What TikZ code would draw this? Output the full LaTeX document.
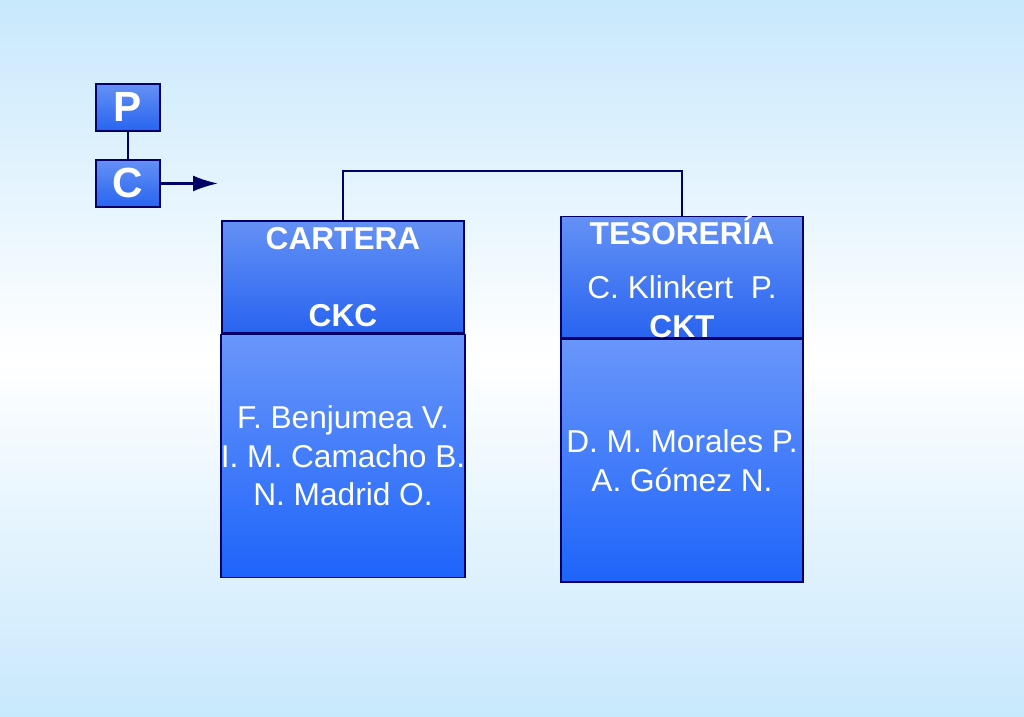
\documentclass[tikz,border=0pt]{standalone}
\usepackage{fontspec}
\setmainfont{Liberation Sans}
\usetikzlibrary{arrows.meta}

\tikzset{
  unitbox/.style={draw=blue!40!black, top color={rgb,255:red,100;green,145;blue,245}, bottom color={rgb,255:red,40;green,100;blue,240}, text=white, font=\bfseries\large, minimum width=0.64cm, minimum height=0.47cm, inner sep=0pt},
  headbox/.style={draw=blue!40!black, top color={rgb,255:red,100;green,145;blue,245}, bottom color={rgb,255:red,40;green,100;blue,240}, text=white, minimum width=2.42cm, minimum height=1.12cm, inner sep=0pt, align=center, font=\small},
  staffbox/.style={draw=blue!40!black, top color={rgb,255:red,105;green,150;blue,250}, bottom color={rgb,255:red,30;green,100;blue,250}, text=white, minimum width=2.42cm, minimum height=2.43cm, inner sep=0pt, align=center, font=\small},
  link/.style={draw=blue!40!black, line width=0.6pt}
}

\begin{document}
\begin{tikzpicture}[x=1cm,y=1cm]
\useasboundingbox (0,0) rectangle (10.24,7.17);
\shade[top color={rgb,255:red,200;green,232;blue,252}, bottom color=white] (0,7.17) rectangle (10.24,3.58);
\shade[top color=white, bottom color={rgb,255:red,200;green,232;blue,252}] (0,3.59) rectangle (10.24,0);

% legend
\node[unitbox] (p) at (1.28,6.095) {P};
\node[unitbox] (c) at (1.28,5.335) {C};
\coordinate (arrowend) at (2.18,5.335);
\draw[link] (p) -- (c);
\draw[link, -{Latex[length=0.25cm,width=0.16cm]}] (c) -- (arrowend);

% units
\node[headbox] (carterahead) at (3.43,4.40) {\textbf{CARTERA}\\[1.2em]\textbf{CKC}};
\node[staffbox, anchor=north] (carterastaff) at (carterahead.south) {F. Benjumea V.\\I. M. Camacho B.\\N. Madrid O.};
\node[headbox] (tesohead) at (6.82,4.40) {\textbf{TESORERÍA}\\[0.5em]C. Klinkert\ \ P.\\\textbf{CKT}};
\node[staffbox, anchor=north] (tesostaff) at (tesohead.south) {D. M. Morales P.\\A. Gómez N.};

\draw[link] (carterahead.north) -- ++(0,0.49) -| (tesohead.north);
\end{tikzpicture}
\end{document}
